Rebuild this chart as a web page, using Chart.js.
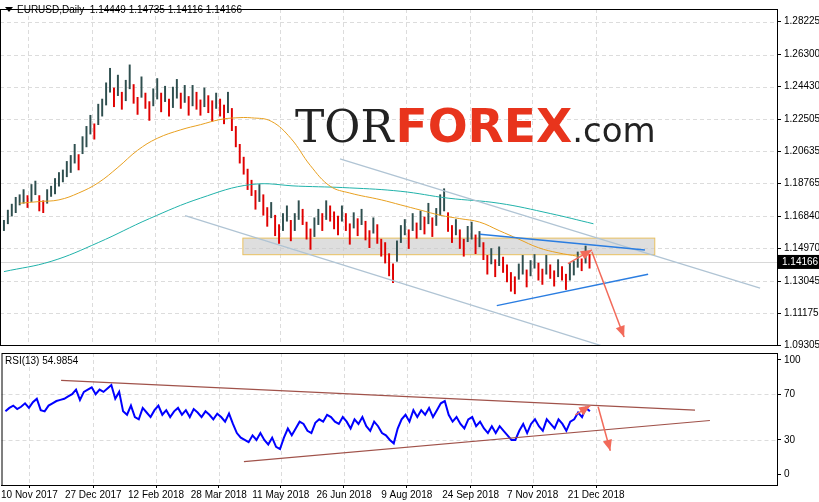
<!DOCTYPE html>
<html><head><meta charset="utf-8">
<script src="https://cdn.jsdelivr.net/npm/chart.js@4"></script>
<style>
body{margin:0;background:#fff;width:819px;height:502px;overflow:hidden;font-family:"Liberation Sans",sans-serif}
#c1{position:absolute;left:0;top:0}
#c2{position:absolute;left:0;top:344px}
</style></head><body>
<canvas id="c1" width="819" height="354"></canvas>
<canvas id="c2" width="819" height="158"></canvas>
<script>
// ---- DATA ----
const title = "EURUSD,Daily  1.14449 1.14735 1.14116 1.14166";
const lastPrice = 1.14166;
const priceTicks = [1.09305,1.11175,1.13045,1.14970,1.16840,1.18765,1.20635,1.22505,1.24430,1.26300,1.28225];
const dateLabels = ["10 Nov 2017","27 Dec 2017","12 Feb 2018","28 Mar 2018","11 May 2018","26 Jun 2018","9 Aug 2018","24 Sep 2018","7 Nov 2018","21 Dec 2018"];
const dateIdx = [6.1,22.4,38.4,54.4,70.2,86.3,102.3,118.6,134.4,150.6];
const mids = [1.163,1.168,1.172,1.175,1.178,1.180,1.177,1.182,1.185,1.176,
1.174,1.180,1.183,1.186,1.190,1.192,1.196,1.199,1.205,1.200,
1.210,1.215,1.222,1.218,1.228,1.232,1.240,1.248,1.238,1.245,
1.236,1.242,1.250,1.240,1.233,1.244,1.236,1.230,1.238,1.243,
1.235,1.240,1.232,1.238,1.243,1.236,1.240,1.233,1.239,1.236,
1.232,1.238,1.234,1.230,1.236,1.232,1.228,1.235,1.225,1.215,
1.205,1.198,1.190,1.185,1.178,1.182,1.175,1.168,1.172,1.163,
1.158,1.165,1.170,1.160,1.165,1.172,1.168,1.160,1.155,1.162,
1.168,1.165,1.172,1.170,1.166,1.163,1.170,1.165,1.158,1.166,
1.162,1.168,1.160,1.155,1.163,1.158,1.150,1.147,1.140,1.135,
1.148,1.158,1.162,1.155,1.165,1.160,1.166,1.163,1.170,1.162,
1.168,1.175,1.178,1.165,1.158,1.162,1.155,1.150,1.158,1.160,
1.152,1.155,1.148,1.140,1.145,1.138,1.145,1.140,1.135,1.130,
1.128,1.136,1.140,1.132,1.138,1.142,1.136,1.133,1.140,1.136,
1.132,1.138,1.135,1.130,1.136,1.138,1.143,1.140,1.146,1.142];
const spans = [60,80,70,90,60,80,70,100,80,90,
70,80,60,90,80,70,90,100,110,90,
100,120,110,90,120,100,130,140,110,120,
100,120,140,110,100,120,90,110,100,120,
110,90,100,120,110,90,100,110,120,100,
90,110,100,120,90,100,110,120,130,120,
110,100,120,90,110,100,120,110,90,120,
110,100,90,120,100,110,90,100,120,110,
90,100,110,90,100,110,90,100,120,90,
100,90,110,100,90,110,100,120,130,110,
120,100,90,110,100,90,110,100,120,110,
100,120,130,110,100,90,110,100,90,100,
110,90,100,110,90,100,110,90,100,110,
100,90,110,100,90,80,100,90,110,80,
90,100,80,90,100,80,90,70,100,80];
const maFastIdx = [4,9,14,19,24,29,34,39,45,50,55,59,63,68,73,78,83,88,96,101,106,111,116,121,126,131,136,141,146];
const maFast = [1.176,1.177,1.178,1.182,1.188,1.197,1.207,1.214,1.219,1.222,1.225,1.226,1.226,1.224,1.214,1.198,1.186,1.182,1.178,1.175,1.172,1.169,1.167,1.165,1.160,1.155,1.150,1.147,1.145];
const maSlowIdx = [0,12,24,37,50,63,75,88,101,113,126,139,150];
const maSlow = [1.136,1.142,1.153,1.167,1.179,1.187,1.186,1.185,1.183,1.179,1.176,1.170,1.164];
const rsi = [55,58,60,57,59,62,58,63,66,56,55,60,62,64,65,66,68,70,74,65,
72,74,76,70,74,72,75,78,66,72,55,52,60,50,48,58,54,50,56,60,
52,56,50,55,58,52,56,50,57,54,50,55,52,48,53,50,46,53,44,36,
32,30,28,34,30,36,30,26,32,24,22,32,40,34,40,46,44,38,36,45,
48,46,52,50,46,44,50,46,40,48,44,50,42,38,46,42,36,34,30,27,
40,48,52,46,56,50,56,52,58,50,56,62,64,52,46,50,44,40,48,50,
42,46,40,36,42,36,42,38,34,30,30,38,44,36,44,48,42,38,48,44,
40,48,44,38,46,48,54,50,58,55];
const rsiLabel = "RSI(13) 54.9854";
const channelLines = [[[85.5,1.2020],[192.4,1.1264]],[[46.1,1.1688],[152.9,1.0920]]];
const blueLines = [[[121.1,1.1579],[163.1,1.1487]],[[125.4,1.1161],[163.9,1.1344]]];
const zoneBox = [60.8,1.1556,165.6,1.1459];
const priceArrows = [[[143.5,1.1407],[149.6,1.1487]],[[149.6,1.1476],[157.8,1.0977]]];
const rsiLines = [[[14.2,82],[175.8,56]],[[60.8,11],[179.6,47]]];
const rsiArrows = [[[145.3,52],[149.1,60]],[[151.1,59],[154.2,20.5]]];
// ---- END DATA ----

const X_MIN=-1, X_MAX=196.7;
const font={family:"Liberation Sans",size:10};
const highs=mids.map((m,i)=>m+spans[i]/20000), lows=mids.map((m,i)=>m-spans[i]/20000);
const barData=mids.map((m,i)=>({x:i,y:[lows[i],highs[i]]}));
const barColors=mids.map((m,i)=>i>0&&m<mids[i-1]?'#e00000':'#2f4f4f');

function P(s,p){return [s.x.getPixelForValue(p[0]),s.y.getPixelForValue(p[1])];}
function line(ctx,a,b,col,w){ctx.strokeStyle=col;ctx.lineWidth=w;ctx.beginPath();ctx.moveTo(a[0],a[1]);ctx.lineTo(b[0],b[1]);ctx.stroke();}
function arrow(ctx,a,b,col){line(ctx,a,b,col,1.5);const ang=Math.atan2(b[1]-a[1],b[0]-a[0]);ctx.fillStyle=col;ctx.beginPath();ctx.moveTo(b[0],b[1]);ctx.lineTo(b[0]-12*Math.cos(ang-0.4),b[1]-12*Math.sin(ang-0.4));ctx.lineTo(b[0]-12*Math.cos(ang+0.4),b[1]-12*Math.sin(ang+0.4));ctx.closePath();ctx.fill();}
function grid(ctx,ch){const a=ch.chartArea;ctx.save();ctx.strokeStyle='#dcdcdc';ctx.setLineDash([4,3]);ctx.lineWidth=1;
 for(const d of dateIdx){const x=Math.round(ch.scales.x.getPixelForValue(d))+0.5;ctx.beginPath();ctx.moveTo(x,a.top);ctx.lineTo(x,a.bottom);ctx.stroke();}
 ctx.restore();}

const mainPlugin={id:'mp',
 beforeDatasetsDraw(ch){const ctx=ch.ctx,s=ch.scales,a=ch.chartArea;grid(ctx,ch);
  ctx.save();ctx.strokeStyle='#dcdcdc';ctx.setLineDash([4,3]);
  for(const t of priceTicks){const y=Math.round(s.y.getPixelForValue(t))+0.5;ctx.beginPath();ctx.moveTo(a.left,y);ctx.lineTo(a.right,y);ctx.stroke();}
  ctx.setLineDash([]);
  ctx.textBaseline='alphabetic';
  let x=295;const y=142;
  ctx.font='44px "DejaVu Serif"';ctx.fillStyle='#222';ctx.fillText('TOR',x,y);x+=ctx.measureText('TOR').width+2;
  ctx.font='bold 47px "DejaVu Sans"';ctx.fillStyle='#e8341c';ctx.fillText('FOREX',x,y);x+=ctx.measureText('FOREX').width;
  ctx.font='34px "DejaVu Sans"';ctx.fillStyle='#222';ctx.fillText('.com',x,y);
  const b1=P(s,[zoneBox[0],zoneBox[1]]),b2=P(s,[zoneBox[2],zoneBox[3]]);
  ctx.fillStyle='rgba(200,200,200,0.6)';ctx.fillRect(b1[0],b1[1],b2[0]-b1[0],b2[1]-b1[1]);
  ctx.strokeStyle='#e8c060';ctx.lineWidth=1;ctx.strokeRect(b1[0],b1[1],b2[0]-b1[0],b2[1]-b1[1]);
  const yp=Math.round(s.y.getPixelForValue(lastPrice))+0.5;ctx.strokeStyle='#d8d8d8';ctx.beginPath();ctx.moveTo(a.left,yp);ctx.lineTo(a.right,yp);ctx.stroke();
  ctx.restore();},
 afterDatasetsDraw(ch){const ctx=ch.ctx,s=ch.scales,a=ch.chartArea;ctx.save();
  ctx.beginPath();ctx.rect(a.left,a.top,a.width,a.height);ctx.clip();
  for(const l of channelLines)line(ctx,P(s,l[0]),P(s,l[1]),'#b0c4d4',1.3);
  for(const l of blueLines)line(ctx,P(s,l[0]),P(s,l[1]),'#2a7de1',1.5);
  for(const l of priceArrows)arrow(ctx,P(s,l[0]),P(s,l[1]),'#f26a5a');
  ctx.restore();ctx.save();
  const yp=s.y.getPixelForValue(lastPrice);ctx.fillStyle='#000';ctx.fillRect(a.right+1,yp-7,42,14);
  ctx.fillStyle='#fff';ctx.font='10px "Liberation Sans"';ctx.textBaseline='middle';ctx.fillText(lastPrice.toFixed(5),a.right+5,yp+0.5);
  ctx.fillStyle='#000';ctx.font='10px "Liberation Sans"';
  ctx.beginPath();ctx.moveTo(5,7);ctx.lineTo(13,7);ctx.lineTo(9,12);ctx.closePath();ctx.fill();
  ctx.fillText(title,17,10);
  ctx.strokeStyle='#000';ctx.strokeRect(a.left+0.5,a.top+0.5,a.width,a.height);ctx.restore();}
};
const yAxisW=function(sc){sc.width=42;};
new Chart(document.getElementById('c1'),{
 type:'bar',
 data:{datasets:[
  {type:'line',data:maSlowIdx.map((v,i)=>({x:v,y:maSlow[i]})),borderColor:'#20b2aa',borderWidth:1,pointRadius:0,tension:0.4,order:1},
  {type:'line',data:maFastIdx.map((v,i)=>({x:v,y:maFast[i]})),borderColor:'#e8a020',borderWidth:1,pointRadius:0,tension:0.4,order:0},
  {data:barData,backgroundColor:barColors,barThickness:1.3,order:2}
 ]},
 options:{responsive:false,animation:false,events:[],
  layout:{padding:{top:-3,bottom:-3,left:0,right:0}},
  plugins:{legend:{display:false},tooltip:{enabled:false}},
  scales:{
   x:{type:'linear',min:X_MIN,max:X_MAX,offset:false,display:false},
   y:{position:'right',min:1.09305,max:1.2897,afterFit:yAxisW,
    afterBuildTicks:sc=>{sc.ticks=priceTicks.map(v=>({value:v}));},
    ticks:{color:'#000',font,padding:3,callback:v=>v.toFixed(5)},
    grid:{drawOnChartArea:false,tickLength:4,color:'#000'},border:{color:'#000'}}
  }},
 plugins:[mainPlugin]
});

const rsiPlugin={id:'rp',
 beforeDatasetsDraw(ch){const ctx=ch.ctx,s=ch.scales,a=ch.chartArea;grid(ctx,ch);
  ctx.save();ctx.strokeStyle='#dcdcdc';ctx.setLineDash([4,3]);
  for(const t of [30,70]){const y=Math.round(s.y.getPixelForValue(t))+0.5;ctx.beginPath();ctx.moveTo(a.left,y);ctx.lineTo(a.right,y);ctx.stroke();}
  ctx.restore();},
 afterDatasetsDraw(ch){const ctx=ch.ctx,s=ch.scales,a=ch.chartArea;ctx.save();
  ctx.beginPath();ctx.rect(a.left,a.top,a.width,a.height);ctx.clip();
  for(const l of rsiLines)line(ctx,P(s,l[0]),P(s,l[1]),'#a0524a',1.2);
  for(const l of rsiArrows)arrow(ctx,P(s,l[0]),P(s,l[1]),'#f26a5a');
  ctx.restore();ctx.save();ctx.fillStyle='#000';ctx.font='10px "Liberation Sans"';ctx.textBaseline='middle';ctx.fillText(rsiLabel,5,a.top+8);
  ctx.strokeStyle='#000';ctx.strokeRect(a.left+0.5,a.top+0.5,a.width,a.height);ctx.restore();}
};
new Chart(document.getElementById('c2'),{
 type:'line',
 data:{datasets:[{data:rsi.map((v,i)=>({x:i,y:v})),borderColor:'#0000ff',borderWidth:2,pointRadius:0,tension:0}]},
 options:{responsive:false,animation:false,events:[],
  layout:{padding:{top:0,bottom:0,left:0,right:0}},
  plugins:{legend:{display:false},tooltip:{enabled:false}},
  scales:{
   x:{type:'linear',min:X_MIN,max:X_MAX,afterFit:sc=>{sc.height=17;},
    afterBuildTicks:sc=>{sc.ticks=dateIdx.map(v=>({value:v}));},
    ticks:{color:'#000',font,padding:1,maxRotation:0,autoSkip:false,callback:(v,i)=>dateLabels[i]},
    grid:{drawOnChartArea:false,tickLength:3,color:'#000'},border:{color:'#000'}},
   y:{position:'right',min:-9.4,max:106,afterFit:yAxisW,
    afterBuildTicks:sc=>{sc.ticks=[0,30,70,100].map(v=>({value:v}));},
    ticks:{color:'#000',font,padding:3},
    grid:{drawOnChartArea:false,tickLength:4,color:'#000'},border:{color:'#000'}}
  }},
 plugins:[rsiPlugin]
});
</script></body></html>
